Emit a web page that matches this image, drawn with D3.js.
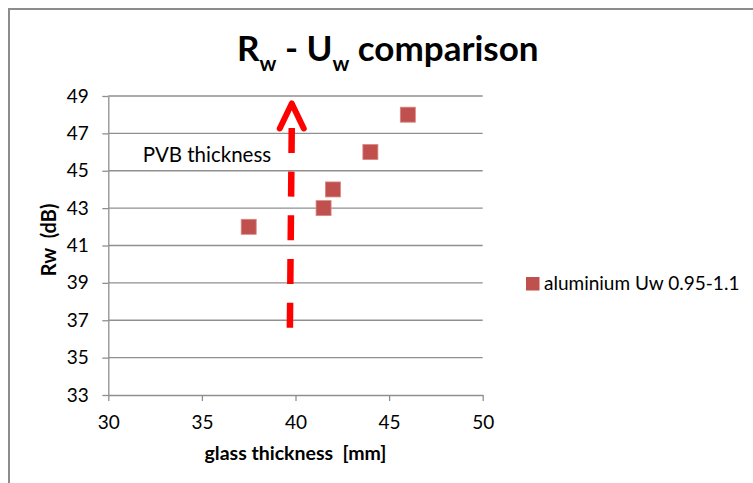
<!DOCTYPE html>
<html>
<head>
<meta charset="utf-8">
<script src="https://cdn.jsdelivr.net/npm/d3@7"></script>
<style>
  body { margin: 0; background: #fff; }
  svg text { font-family: Lato, "Open Sans", sans-serif; fill: #000; }
</style>
</head>
<body>
<svg id="chart"></svg>
<script>
// data
const glassThickness = [37.5, 41.5, 42, 44, 46];
const rwValues = [42, 43, 44, 46, 48];
const xTicks = [30, 35, 40, 45, 50];
const yTicks = [33, 35, 37, 39, 41, 43, 45, 47, 49];
const seriesName = "aluminium Uw 0.95-1.1";

// PVB arrow annotation (data units): bottom -> top
const arrowX = [39.7, 39.8];
const arrowY = [36.6, 48.6];

const width = 753;
const height = 483;
const svg = d3.select("#chart").attr("width", width).attr("height", height);

const x = d3.scaleLinear().domain([30, 50]).range([108.3, 482.7]);
const y = d3.scaleLinear().domain([33, 49]).range([395, 96]);

// chart area border
svg.append("rect")
  .attr("x", 9).attr("y", 9)
  .attr("width", 800).attr("height", 800)
  .attr("fill", "none")
  .attr("stroke", "#8c8c8c")
  .attr("stroke-width", 2);

// title with subscripts
const title = svg.append("text")
  .attr("x", 237).attr("y", 61)
  .style("font-size", "35px")
  .style("font-weight", "bold");
title.append("tspan").text("R");
title.append("tspan").attr("dy", 10).style("font-size", "21px").text("w");
title.append("tspan").attr("dy", -10).text(" - U");
title.append("tspan").attr("dy", 10).style("font-size", "21px").text("w");
title.append("tspan").attr("dy", -10).text(" comparison");

// horizontal gridlines
svg.append("g")
  .selectAll("line")
  .data(yTicks.slice(1))
  .enter()
  .append("line")
  .attr("x1", x(30)).attr("x2", x(50))
  .attr("y1", (d) => y(d)).attr("y2", (d) => y(d))
  .attr("stroke", "#8f8f8f")
  .attr("stroke-width", 1.3);

// axes
const yAxis = svg.append("g")
  .attr("transform", `translate(${x(30)},0)`)
  .call(d3.axisLeft(y).tickValues(yTicks).tickSize(6).tickPadding(13.5).tickSizeOuter(0));
const xAxis = svg.append("g")
  .attr("transform", `translate(0,${y(33)})`)
  .call(d3.axisBottom(x).tickValues(xTicks).tickSize(6).tickPadding(15).tickSizeOuter(0));

[xAxis, yAxis].forEach((g) => {
  g.select(".domain").attr("stroke", "#8f8f8f").attr("stroke-width", 1.3);
  g.selectAll(".tick line").attr("stroke", "#8f8f8f").attr("stroke-width", 1.3);
  g.selectAll(".tick text")
    .attr("fill", "#000")
    .style("font-family", "Lato, sans-serif")
    .style("font-size", "19px");
});

// axis titles
svg.append("text")
  .attr("x", x(40)).attr("y", 460)
  .attr("text-anchor", "middle")
  .style("font-size", "19.5px")
  .style("font-weight", "bold")
  .style("white-space", "pre")
  .text("glass thickness  [mm]");

svg.append("text")
  .attr("transform", `translate(56,${y(41.3)}) rotate(-90)`)
  .attr("text-anchor", "middle")
  .style("font-size", "20px")
  .style("font-weight", "bold")
  .style("white-space", "pre")
  .text("Rw  (dB)");

// dashed PVB arrow
svg.append("line")
  .attr("x1", x(arrowX[0])).attr("y1", y(arrowY[0]))
  .attr("x2", x(arrowX[1])).attr("y2", y(arrowY[1]) + 24)
  .attr("stroke", "#ff0000")
  .attr("stroke-width", 6.5)
  .attr("stroke-dasharray", "25,18.7");

const tipX = x(arrowX[1]);
const tipY = y(arrowY[1]);
svg.append("path")
  .attr("d", `M${tipX - 12},${tipY + 25} L${tipX},${tipY} L${tipX + 12},${tipY + 25}`)
  .attr("fill", "none")
  .attr("stroke", "#ff0000")
  .attr("stroke-width", 6)
  .attr("stroke-linecap", "round")
  .attr("stroke-linejoin", "round");

svg.append("text")
  .attr("x", x(31.84)).attr("y", y(45.45))
  .style("font-size", "20.5px")
  .text("PVB thickness");

// markers
const size = 15;
svg.append("g")
  .selectAll("rect")
  .data(glassThickness.map((g, i) => ({ g, rw: rwValues[i] })))
  .enter()
  .append("rect")
  .attr("x", (d) => x(d.g) - size / 2)
  .attr("y", (d) => y(d.rw) - size / 2)
  .attr("width", size)
  .attr("height", size)
  .attr("fill", "#c0504d")
  .attr("stroke", "#d98683")
  .attr("stroke-width", 0.8);

// legend
const legend = svg.append("g").attr("transform", "translate(526,277)");
legend.append("rect")
  .attr("width", 13.5).attr("height", 13.5)
  .attr("fill", "#c0504d");
legend.append("text")
  .attr("x", 18).attr("y", 12.5)
  .style("font-size", "19px")
  .text(seriesName);
</script>
</body>
</html>
